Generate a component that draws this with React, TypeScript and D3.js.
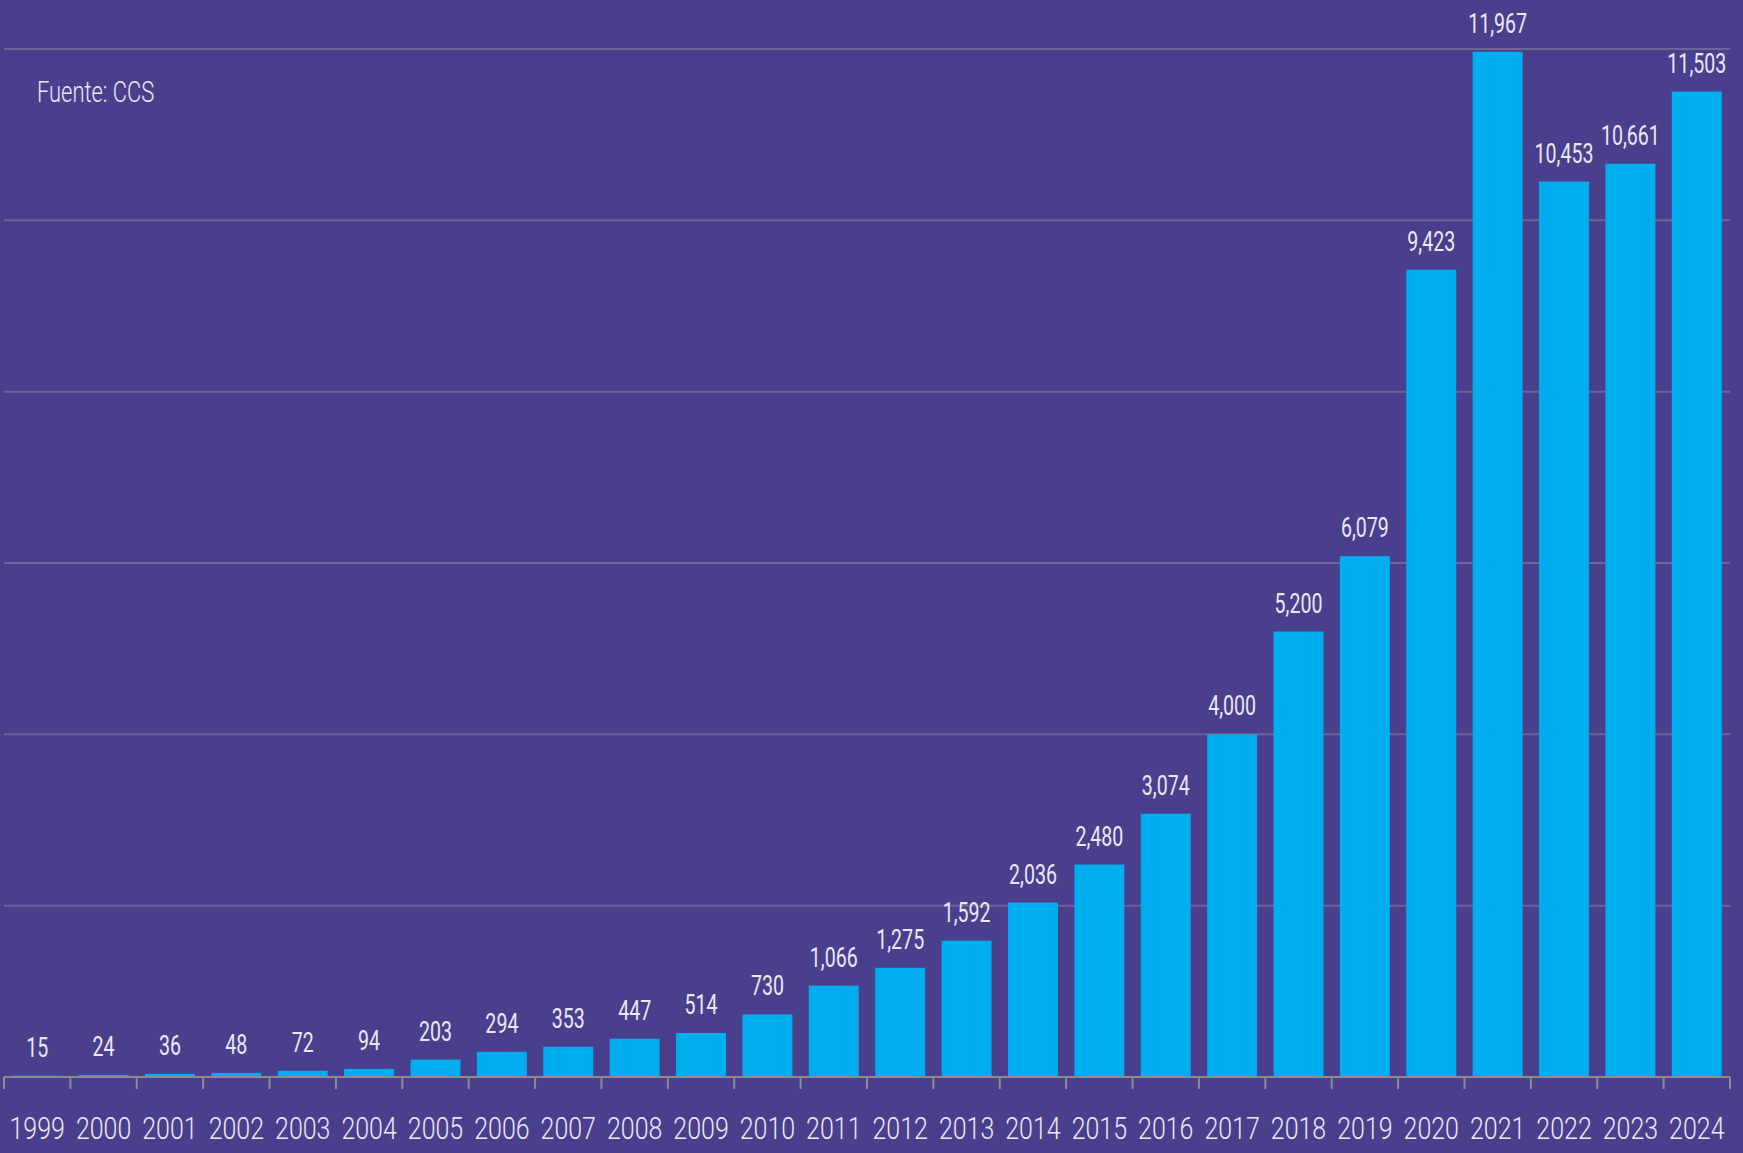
import React from "react";
import * as d3 from "d3";

const years = ["1999","2000","2001","2002","2003","2004","2005","2006","2007","2008","2009","2010","2011","2012","2013","2014","2015","2016","2017","2018","2019","2020","2021","2022","2023","2024"];
const values = [15,24,36,48,72,94,203,294,353,447,514,730,1066,1275,1592,2036,2480,3074,4000,5200,6079,9423,11967,10453,10661,11503];
const gridTicks = [2000,4000,6000,8000,10000,12000];
const sourceNote = "Fuente: CCS";

const W = 1743, H = 1153;
const FONT = "Roboto, 'Noto Sans', sans-serif";
const TXT = "#ebe8f4";

export default function App() {
  const x = d3.scaleBand<string>().domain(years).range([4, 1730]).paddingInner(0.247).paddingOuter(0.1235);
  const y = d3.scaleLinear().domain([0, 12000]).range([1077, 49]);
  const step = x.step();
  const fmt = d3.format(",");
  const bounds = years.map((_, i) => 4 + i * step).concat([1730]);
  return (
    <svg width={W} height={H} style={{ position: "absolute", left: 0, top: 0, background: "#4a3f8c" }}>
      <rect x={0} y={0} width={W} height={H} fill="#4a3f8c" />
      {gridTicks.map(t => (
        <line key={t} x1={4} x2={1730} y1={y(t)} y2={y(t)} stroke="#6b6598" strokeWidth={2} />
      ))}
      {years.map((yr, i) => (
        <rect key={yr} x={x(yr)} y={y(values[i])} width={x.bandwidth()} height={y(0) - y(values[i])} fill="#00aeef" />
      ))}
      <line x1={4} x2={1730} y1={y(0)} y2={y(0)} stroke="#8c8c8c" strokeWidth={2} />
      {bounds.map((b, i) => (
        <line key={i} x1={b} x2={b} y1={y(0)} y2={y(0) + 12} stroke="#8c8c8c" strokeWidth={2} />
      ))}
      {years.map((yr, i) => (
        <text key={"v" + yr}
          transform={`translate(${x(yr)! + x.bandwidth() / 2},${y(values[i]) - 19}) scale(0.7,1)`}
          textAnchor="middle" fontFamily={FONT} fontWeight={400} fontSize={28} fill={TXT}>{fmt(values[i])}</text>
      ))}
      {years.map(yr => (
        <text key={"t" + yr}
          transform={`translate(${x(yr)! + x.bandwidth() / 2},${1139}) scale(0.78,1)`}
          textAnchor="middle" fontFamily={FONT} fontWeight={300} fontSize={32} fill={TXT}>{yr}</text>
      ))}
      <text transform={`translate(37,102) scale(0.73,1)`} fontFamily={FONT} fontWeight={300} fontSize={30} fill={TXT}>{sourceNote}</text>
    </svg>
  );
}
